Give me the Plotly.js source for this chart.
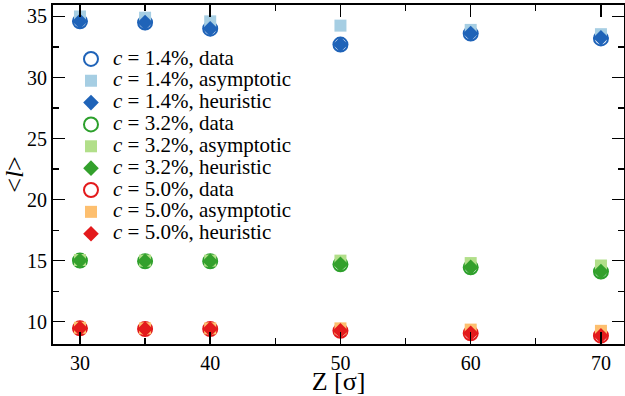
<!DOCTYPE html>
<html><head><meta charset="utf-8">
<script src="https://cdn.plot.ly/plotly-3.0.1.min.js"></script>
<style>html,body{margin:0;padding:0;background:#fff}</style>
</head><body><div id="chart" style="width:625px;height:396px"></div>
<script>
const Z = [30, 35, 40, 50, 60, 70];
const data14 = [34.6, 34.5, 34.0, 32.7, 33.6, 33.2];
const asym14 = [35.0, 34.9, 34.6, 34.25, 33.9, 33.55];
const heur14 = [34.6, 34.5, 34.0, 32.7, 33.6, 33.25];
const data32 = [15.0, 14.95, 14.95, 14.7, 14.45, 14.1];
const asym32 = [15.05, 15.0, 15.0, 15.0, 14.8, 14.6];
const heur32 = [15.0, 14.95, 14.95, 14.7, 14.45, 14.1];
const data50 = [9.45, 9.4, 9.4, 9.25, 9.05, 8.85];
const asym50 = [9.5, 9.45, 9.45, 9.45, 9.35, 9.25];
const heur50 = [9.45, 9.4, 9.4, 9.25, 9.05, 8.85];
const concs = ['1.4', '3.2', '5.0'];
const cols = {
  data: ['#1f63b8', '#2ca02c', '#e31a1c'],
  asym: ['#a6cee3', '#b2df8a', '#fdbf6f'],
  heur: ['#1f63b8', '#33a02c', '#e31a1c']
};
const sets = [[data14, asym14, heur14], [data32, asym32, heur32], [data50, asym50, heur50]];
const traces = [];
const big = s => '<span style="font-size:21px">' + s + '</span>';
sets.forEach((s, i) => {
  const lab = '<i>c</i> = ' + concs[i] + '%, ';
  traces.push({x: Z, y: s[0], mode: 'markers', type: 'scatter', name: big(lab + 'data'),
    marker: {symbol: 'circle-open', size: 14, color: cols.data[i], line: {width: 2, color: cols.data[i]}}});
  traces.push({x: Z, y: s[1], mode: 'markers', type: 'scatter', name: big(lab + 'asymptotic'),
    marker: {symbol: 'square', size: 12, color: cols.asym[i], line: {width: 0}}});
  traces.push({x: Z, y: s[2], mode: 'markers', type: 'scatter', name: big(lab + 'heuristic'),
    marker: {symbol: 'diamond', size: 12, color: cols.heur[i], line: {width: 0}}});
});
const font = {family: 'Liberation Serif, Times New Roman, serif', color: '#000'};
const layout = {
  width: 625, height: 396,
  margin: {l: 53, r: 1, t: 5, b: 52},
  paper_bgcolor: '#fff', plot_bgcolor: '#fff',
  font: Object.assign({size: 20}, font),
  showlegend: true,
  legend: {x: 0.028, y: 0.888, xanchor: 'left', yanchor: 'top', bgcolor: 'rgba(0,0,0,0)',
    font: Object.assign({size: 14.5}, font), tracegroupgap: 0, itemwidth: 34},
  xaxis: {
    range: [27.93, 71.77], tickvals: [30, 40, 50, 60, 70], ticks: 'inside', ticklen: 12, tickwidth: 1.5,
    tickcolor: '#000', showline: true, linewidth: 2, linecolor: '#000', mirror: 'ticks',
    showgrid: false, zeroline: false, tickfont: Object.assign({size: 20}, font),
    minor: {dtick: 5, tick0: 0, ticks: 'inside', ticklen: 6, tickwidth: 1.2, tickcolor: '#000', showgrid: false},
    title: {text: 'Z [σ]', font: Object.assign({size: 26}, font), standoff: 5}
  },
  yaxis: {
    range: [8.17, 35.94], tickvals: [10, 15, 20, 25, 30, 35], ticks: 'inside', ticklen: 12, tickwidth: 1.5,
    tickcolor: '#000', showline: true, linewidth: 2, linecolor: '#000', mirror: 'ticks',
    showgrid: false, zeroline: false, tickfont: Object.assign({size: 20}, font),
    minor: {dtick: 2.5, tick0: 0, ticks: 'inside', ticklen: 6, tickwidth: 1.2, tickcolor: '#000', showgrid: false},
    title: {text: '&lt;<i>l</i>&gt;', font: Object.assign({size: 26}, font), standoff: 4}
  }
};
Plotly.newPlot('chart', traces, layout, {staticPlot: true});
</script></body></html>
